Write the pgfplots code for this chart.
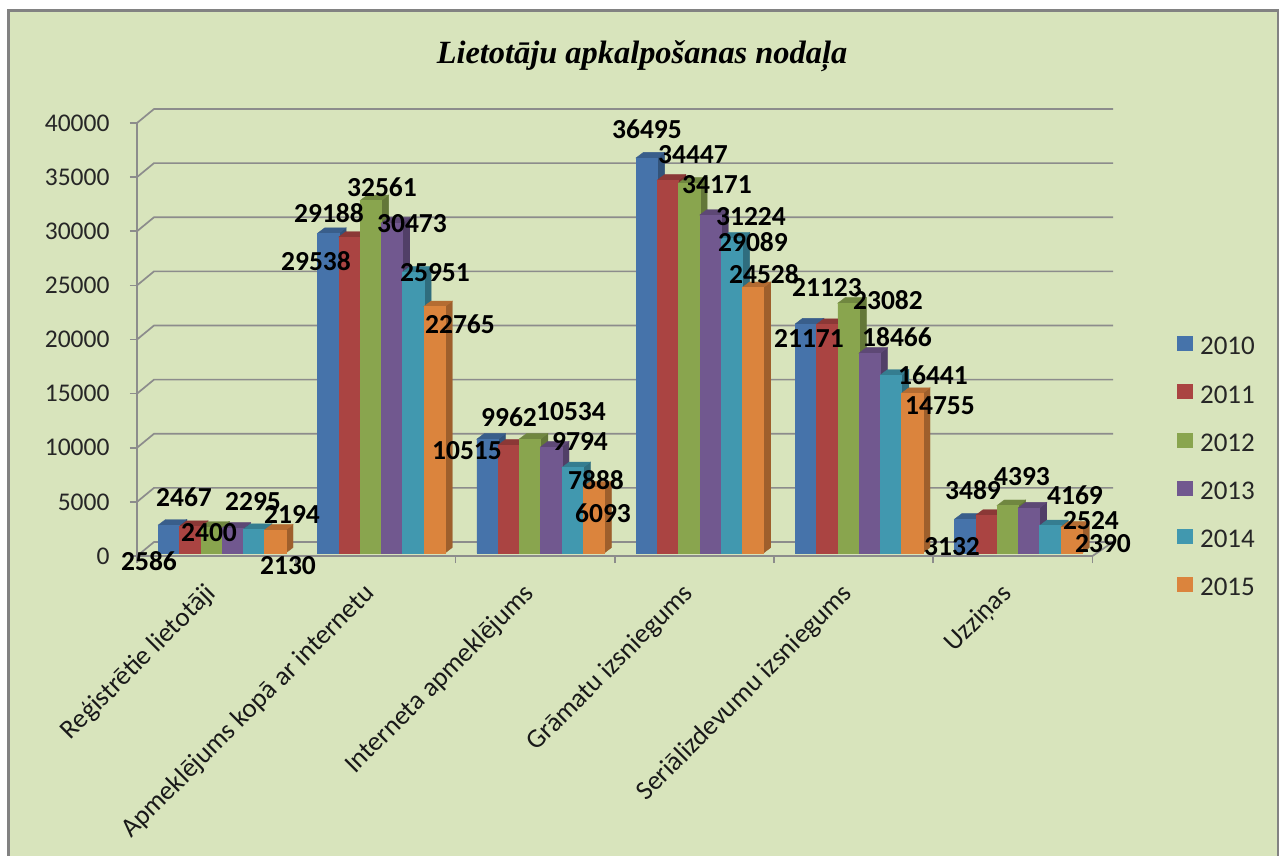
\documentclass[border=0pt]{standalone}
\usepackage{fontspec}
\setmainfont{Carlito}
\newfontfamily\titlefont{Liberation Serif}
\usepackage{pgfplots}
\usepackage{pgfplotstable}
\pgfplotsset{compat=1.18}

% 1pt here is one pixel of the reference
\definecolor{panel}{RGB}{216,228,188}
\definecolor{gridc}{RGB}{140,140,140}
\definecolor{frame}{RGB}{130,130,130}
\definecolor{c2010}{RGB}{70,115,170}
\definecolor{c2011}{RGB}{170,68,66}
\definecolor{c2012}{RGB}{137,165,78}
\definecolor{c2013}{RGB}{113,88,143}
\definecolor{c2014}{RGB}{65,152,175}
\definecolor{c2015}{RGB}{219,132,61}

\pgfplotstableread{
x   y2010 y2011 y2012 y2013 y2014 y2015
0.5  2586  2467  2400  2295  2194  2130
1.5 29538 29188 32561 30473 25951 22765
2.5 10515  9962 10534  9794  7888  6093
3.5 36495 34447 34171 31224 29089 24528
4.5 21171 21123 23082 18466 16441 14755
5.5  3132  3489  4393  4169  2524  2390
}\bars

% data labels: value and where the chart put it (pixels of the reference)
\pgfplotstableread{
v     px   py
2586  149  561
2467  184  497
2400  209  533
2295  253  502
2194  292  514
2130  288  566
29538 316  261
29188 329  213
32561 382  187
30473 412  224
25951 435  273
22765 460  324
10515 467  451
9962  509  417
10534 571  412
9794  580  441
7888  596  480
6093  603  513
36495 647  129
34447 693  155
34171 717  185
31224 751  217
29089 753  242
24528 764  274
21171 809  338
21123 827  288
23082 888  300
18466 897  337
16441 933  375
14755 940  406
3132  952  547
3489  973  490
4393  1022 477
4169  1075 495
2524  1091 521
2390  1103 544
}\labels

\pgfdeclareplotmark{emptymark}{}

% one series: plain bars, then the 3d box over them (marks are drawn after
% all bars, so the front face has to be part of the box to keep the order)
\newcommand{\series}[3]{%
  \addplot[ybar, bar width=21.25pt, bar shift=#3pt, fill=#2, draw=none, yshift=3pt]
    table[x=x, y=#1] {\bars};
  \addplot[scatter, only marks, mark=emptymark, forget plot, scatter src=y,
    xshift=#3pt, yshift=3pt,
    visualization depends on={rawy \as \val},
    scatter/@pre marker code/.code={\scope
      \pgfkeys{/pgf/fpu=true,/pgf/fpu/output format=fixed}%
      \pgfmathsetmacro\hh{\val*0.010825}%
      \pgfmathsetmacro\bb{5.5-\hh}%
      \pgfkeys{/pgf/fpu=false}%
      \fill[#2!72!black] (10.62pt,0pt) -- (17.9pt,5.5pt) -- (17.9pt,\bb pt) -- (10.62pt,-\hh pt) -- cycle;
      \fill[#2!82!black] (-10.62pt,0pt) -- (-3.3pt,5.5pt) -- (17.9pt,5.5pt) -- (10.62pt,0pt) -- cycle;
      \fill[#2] (-10.62pt,0pt) rectangle (10.62pt,-\hh pt);
    },
    scatter/@post marker code/.code={\endscope}]
    table[x=x, y=#1] {\bars};
}

\begin{document}
\begin{tikzpicture}[x=1pt, y=1pt]
\useasboundingbox (0,0) rectangle (1279,-856);
\fill[panel] (8,-856) rectangle (1278,-10);
\draw[frame, line width=2.4pt] (8.5,-856) -- (8.5,-10.5) -- (1277.7,-10.5) -- (1277.7,-856);
\begin{axis}[
    at={(137pt,-556pt)}, anchor=south west,
    scale only axis, width=955.5pt, height=433pt,
    xmin=0, xmax=6, ymin=0, ymax=40000,
    clip=false,
    axis lines=left,
    axis line style={-, draw=gridc, line width=1.7pt},
    tick align=outside,
    tick style={gridc, line width=1.7pt},
    major tick length=7pt, minor tick length=7pt,
    ytick={0,5000,10000,15000,20000,25000,30000,35000,40000},
    xtick={0.5,1.5,2.5,3.5,4.5,5.5},
    minor xtick={0,1,2,3,4,5,6},
    major x tick style={draw=none},
    xticklabels={Reģistrētie lietotāji, Apmeklējums kopā ar internetu, Interneta apmeklējums,
      Grāmatu izsniegums, Seriālizdevumu izsniegums, Uzziņas},
    xticklabel style={rotate=45, anchor=north east, font=\fontsize{27}{32}\selectfont, text=black!90, xshift=-19pt, yshift=0pt},
    yticklabel style={font=\fontsize{25.5}{30}\selectfont, text=black!85, /pgf/number format/assume math mode=true,
      /pgf/number format/1000 sep={}},
    yticklabel shift=17pt,
    scaled y ticks=false,
    title={\titlefont\bfseries\itshape Lietotāju apkalpošanas nodaļa},
    title style={at={(axis description cs:0.5285,1.141)}, anchor=center, font=\fontsize{32.4}{38}\selectfont},
    legend cell align=left,
    legend style={at={(axis description cs:1.0885,0.507)}, anchor=north west, draw=none, fill=none,
      font=\fontsize{27}{32}\selectfont, row sep=28pt, inner sep=0pt, outer sep=0pt,
      nodes={inner sep=0pt, text=black!85},
      /tikz/every odd column/.append style={column sep=7pt}},
    legend image code/.code={\fill[#1] (0pt,-7.5pt) rectangle (16pt,7.5pt);},
  ]
  % back wall and floor edges
  \pgfplotsinvokeforeach{5000,10000,15000,20000,25000,30000,35000,40000}{
    \draw[gridc, line width=1.7pt] (axis cs:0,#1) -- ([xshift=17pt,yshift=14pt]axis cs:0,#1)
      -- ([xshift=20.5pt,yshift=14pt]axis cs:6,#1);
  }
  \draw[gridc, line width=1.7pt] (axis cs:0,0) -- ([xshift=17pt,yshift=14pt]axis cs:0,0)
      -- ([xshift=20.5pt,yshift=14pt]axis cs:6,0) -- (axis cs:6,0);

  \series{y2010}{c2010}{-47.7}
  \series{y2011}{c2011}{-26.5}
  \series{y2012}{c2012}{-5.2}
  \series{y2013}{c2013}{16.0}
  \series{y2014}{c2014}{37.3}
  \series{y2015}{c2015}{58.5}

  \addplot[draw=none, no markers, forget plot, point meta=explicit symbolic, nodes near coords,
      every node near coord/.append style={anchor=center, inner sep=0pt, text=black,
        font=\fontsize{27.5}{32}\selectfont\bfseries}]
    table[x expr=(\thisrow{px}-137)/159.25, y expr=(556-\thisrow{py})/0.010825, meta=v] {\labels};

  \legend{2010,2011,2012,2013,2014,2015}
\end{axis}
\end{tikzpicture}
\end{document}
